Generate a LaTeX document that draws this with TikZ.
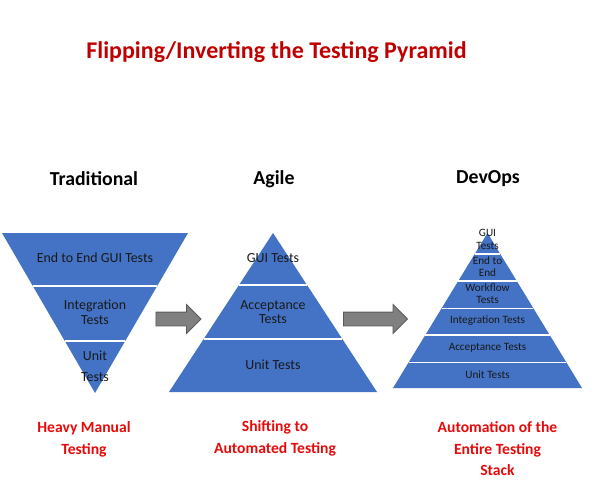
\documentclass[tikz,border=0pt]{standalone}
\usepackage{fontspec}
\setmainfont{Carlito}
\usetikzlibrary{calc,shapes.arrows}
\definecolor{pyblue}{HTML}{4472C4}
\definecolor{titlered}{HTML}{C00000}
\definecolor{labred}{HTML}{E60A0A}
\definecolor{arrgray}{HTML}{808080}
\definecolor{arrline}{HTML}{5A5A5A}
\tikzset{
  pyr/.style={fill=pyblue, draw=none},
  sep/.style={draw=white, line width=1.5pt},
  seg/.style={font=\fontsize{13.9}{14.5}\selectfont, align=center, text=black!90, inner sep=0pt},
  segsm/.style={font=\fontsize{11.2}{12.2}\selectfont, align=center, text=black!90, inner sep=0pt},
  head/.style={font=\fontsize{19.8}{22}\selectfont\bfseries, inner sep=0pt},
  lab/.style={font=\fontsize{15.6}{21.5}\selectfont\bfseries, text=labred, align=center, inner sep=0pt},
  blockarrow/.style={single arrow, fill=arrgray, draw=arrline, line width=0.8pt, inner sep=0pt,
    text height=6.5pt, text depth=6.5pt, single arrow head extend=7.5pt, single arrow tip angle=90}
}
\begin{document}
\begin{tikzpicture}[x=1pt,y=-1pt]
\useasboundingbox (0,0) rectangle (601,487);
% title
\node[font=\fontsize{24}{28}\selectfont\bfseries, text=titlered, inner sep=0pt] (title) at (276.5,52) {Flipping/Inverting the Testing Pyramid};
% headings
\node[head] (hTrad) at (94,179) {Traditional};
\node[head] (hAgile) at (274,179) {Agile};
\node[head] (hDev) at (488,179) {DevOps};

% Traditional (inverted)
\coordinate (tL) at (2,233); \coordinate (tR) at (188,233); \coordinate (tA) at (95,393);
\fill[pyr] (tL) -- (tR) -- (tA) -- cycle;
\draw[sep] ($(tL)!0.331!(tA)$) -- ($(tR)!0.331!(tA)$);
\draw[sep] ($(tL)!0.675!(tA)$) -- ($(tR)!0.675!(tA)$);
\node[seg] (t1) at (95,258) {End to End GUI Tests};
\node[seg] (t2) at (95,312) {Integration\\Tests};
\node[seg] (t3) at (95,366.5) {Unit\\[6pt]Tests};

% Agile
\coordinate (aA) at (273,233); \coordinate (aL) at (169,392); \coordinate (aR) at (377,392);
\fill[pyr] (aA) -- (aR) -- (aL) -- cycle;
\draw[sep] ($(aA)!0.327!(aL)$) -- ($(aA)!0.327!(aR)$);
\draw[sep] ($(aA)!0.667!(aL)$) -- ($(aA)!0.667!(aR)$);
\node[seg] (a1) at (273,258) {GUI Tests};
\node[seg] (a2) at (273,312) {Acceptance\\Tests};
\node[seg] (a3) at (273,365) {Unit Tests};

% DevOps
\coordinate (dA) at (487.5,233); \coordinate (dL) at (393,388); \coordinate (dR) at (582,388);
\fill[pyr] (dA) -- (dR) -- (dL) -- cycle;
\foreach \t in {0.137,0.310,0.486,0.658,0.834}
  \draw[sep] ($(dA)!\t!(dL)$) -- ($(dA)!\t!(dR)$);
\node[segsm] (d1) at (487.5,239.5) {GUI\\Tests};
\node[segsm] (d2) at (487.5,267) {End to\\End};
\node[segsm] (d3) at (487.5,293.5) {Workflow\\Tests};
\node[segsm] (d4) at (487.5,321) {Integration Tests};
\node[segsm] (d5) at (487.5,348) {Acceptance Tests};
\node[segsm] (d6) at (487.5,374.5) {Unit Tests};

% arrows
\node[blockarrow, minimum height=45pt] (arr1) at (175,319) {};
\node[blockarrow, minimum height=64pt] (arr2) at (372,319) {};

% bottom labels
\node[lab] (l1) at (84,439.5) {Heavy Manual\\Testing};
\node[lab] (l2) at (275,438.5) {Shifting to\\Automated Testing};
\node[lab] (l3) at (497.5,449) {Automation of the\\Entire Testing\\Stack};
\end{tikzpicture}
\end{document}
